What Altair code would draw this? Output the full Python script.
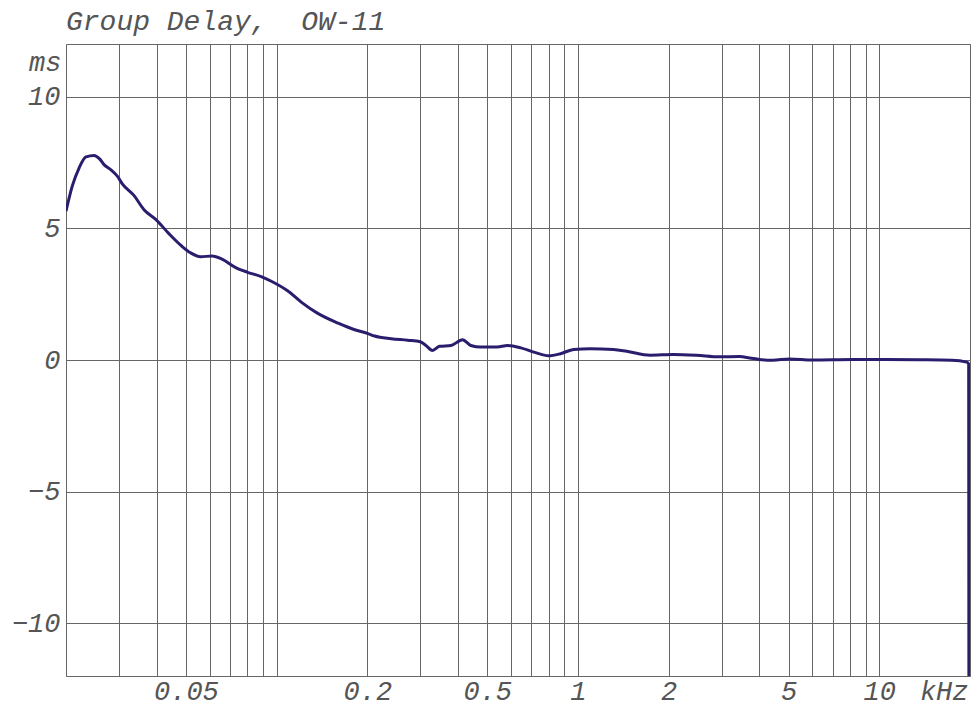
import altair as alt
import pandas as pd

# Frequency (kHz) and group delay (ms)
freq_khz = [0.0200, 0.0210, 0.0221, 0.0233, 0.0248, 0.0258, 0.0268, 0.0282, 0.0296, 0.0308,
            0.0336, 0.0363, 0.0397, 0.0439, 0.0486, 0.0518, 0.0559, 0.0611, 0.0659, 0.0729,
            0.0797, 0.0893, 0.0964, 0.1093, 0.121, 0.1374, 0.160, 0.1816, 0.200, 0.2114,
            0.240, 0.272, 0.300, 0.313, 0.329, 0.347, 0.379, 0.414, 0.441, 0.476,
            0.540, 0.583, 0.646, 0.714, 0.800, 0.875, 0.968, 1.099, 1.312, 1.452,
            1.735, 2.07, 2.47, 2.95, 3.44, 3.71, 4.0, 4.43, 5.03, 6.0,
            8.15, 10.5, 13.5, 17.4, 19.5, 19.8, 19.83]
delay_ms = [5.65, 6.62, 7.29, 7.71, 7.77, 7.65, 7.41, 7.22, 6.98, 6.68,
            6.25, 5.71, 5.34, 4.80, 4.31, 4.07, 3.92, 3.95, 3.83, 3.52,
            3.34, 3.16, 2.98, 2.61, 2.19, 1.76, 1.40, 1.15, 1.01, 0.91,
            0.81, 0.75, 0.69, 0.55, 0.36, 0.52, 0.55, 0.77, 0.55, 0.49,
            0.49, 0.55, 0.46, 0.30, 0.16, 0.24, 0.40, 0.43, 0.40, 0.33,
            0.18, 0.21, 0.18, 0.12, 0.13, 0.08, 0.02, -0.01, 0.04, 0.0,
            0.02, 0.02, 0.01, -0.01, -0.08, -0.15, -12.0]

x_grid = [0.02, 0.03, 0.04, 0.05, 0.06, 0.07, 0.08, 0.09, 0.1,
          0.2, 0.3, 0.4, 0.5, 0.6, 0.7, 0.8, 0.9, 1,
          2, 3, 4, 5, 6, 7, 8, 9, 10, 20]
x_labels = [0.05, 0.2, 0.5, 1, 2, 5, 10]
y_ticks = [-10, -5, 0, 5, 10]

df = pd.DataFrame({"f": freq_khz, "d": delay_ms})

FONT = "Liberation Mono"
TXT = "#555555"
GRID = "#666666"
W, H = 904, 632

label_expr = "indexof([" + ",".join(str(v) for v in x_labels) + "], datum.value) >= 0 ? datum.value : ''"

common = dict(grid=True, ticks=False, tickSize=0, domain=False,
              labelFont=FONT, labelFontSize=27, labelFontStyle="italic", labelColor=TXT,
              titleFont=FONT, titleFontSize=27, titleFontStyle="italic",
              titleFontWeight="normal", titleColor=TXT,
              gridColor=GRID, gridOpacity=1, gridWidth=1)

chart = alt.Chart(df).mark_line(
    color="#2a1d6e", strokeWidth=3, interpolate="monotone", clip=True
).encode(
    x=alt.X("f:Q",
            scale=alt.Scale(type="log", domain=[0.02, 20], nice=False),
            axis=alt.Axis(values=x_grid, labelExpr=label_expr, labelOverlap=False,
                          labelBound=False, labelFlush=False, labelBaseline="alphabetic",
                          labelPadding=23, title="kHz", titleX=W - 2, titleY=23,
                          titleAlign="right", titleBaseline="alphabetic", titleAnchor="end",
                          **common)),
    y=alt.Y("d:Q",
            scale=alt.Scale(domain=[-12, 12], nice=False, zero=False),
            axis=alt.Axis(values=y_ticks, labelPadding=6, labelBaseline="middle",
                          title="ms", titleAngle=0, titleX=-5, titleY=26,
                          titleAlign="right", titleBaseline="alphabetic", **common)),
).properties(
    width=W, height=H,
    title=alt.TitleParams("Group Delay,\u00a0\u00a0OW-11", anchor="start", frame="group",
                          baseline="alphabetic", offset=12, dy=26, font=FONT, fontSize=28,
                          fontStyle="italic", fontWeight="normal", color=TXT),
    autosize=alt.AutoSizeParams(type="none"),
    padding={"left": 58, "top": 36, "right": 2, "bottom": 32},
    background="white",
).configure_view(
    stroke=GRID, strokeWidth=1
)

chart.save("out.html", embed_options={"renderer": "svg", "actions": False})
